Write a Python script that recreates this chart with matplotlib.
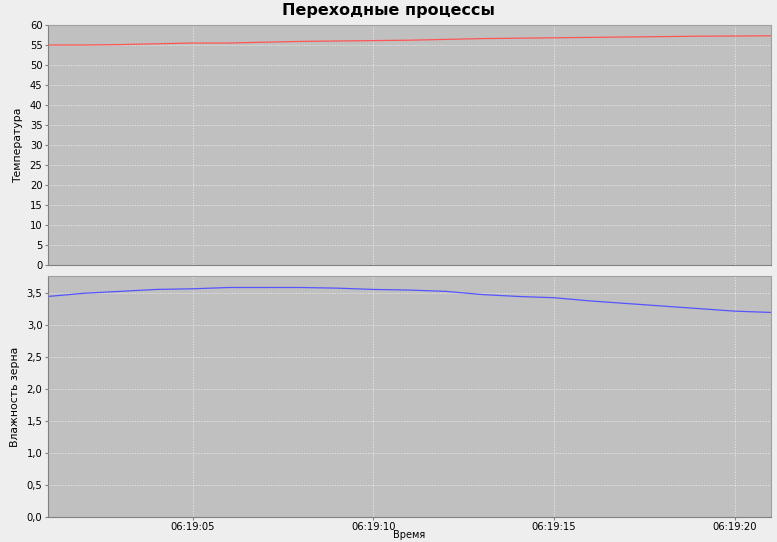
import matplotlib
matplotlib.use("Agg")
import matplotlib.pyplot as plt
import matplotlib.dates as mdates
import matplotlib.ticker as mticker
import pandas as pd

# время измерений (каждую секунду)
seconds = list(range(1, 22))
temperature = [55.0, 55.0, 55.1, 55.3, 55.5, 55.5, 55.7, 55.9, 56.0, 56.1, 56.2,
               56.4, 56.6, 56.7, 56.8, 56.9, 57.0, 57.1, 57.2, 57.25, 57.3]
humidity = [3.45, 3.50, 3.53, 3.56, 3.57, 3.59, 3.59, 3.59, 3.58, 3.56, 3.55,
            3.53, 3.48, 3.45, 3.43, 3.38, 3.34, 3.30, 3.26, 3.22, 3.20]

times = pd.to_datetime([f"2020-01-01 06:19:{s:02d}" for s in seconds])

plt.rcParams['font.family'] = ['DejaVu Sans']

fig = plt.figure(figsize=(7.77, 5.42), dpi=100, facecolor='#EEEEEE')
ax1 = fig.add_axes([48 / 777, 1 - 265 / 542, 723 / 777, 240 / 542])
ax2 = fig.add_axes([48 / 777, 1 - 517 / 542, 723 / 777, 241 / 542], sharex=ax1)


def style(ax):
    ax.set_facecolor('#C0C0C0')
    ax.grid(True, color='#F0F0F0', linestyle=(0, (2, 2)), linewidth=0.5)
    ax.set_axisbelow(True)
    for side in ['top', 'right']:
        ax.spines[side].set_color('#A0A0A0')
    for side in ['left', 'bottom']:
        ax.spines[side].set_color('#808080')
    ax.tick_params(labelsize=7.2, length=2, color='#808080', pad=2)


ax1.plot(times, temperature, color='#FF5555', linewidth=0.9)
ax2.plot(times, humidity, color='#5555FF', linewidth=0.9)

for ax in (ax1, ax2):
    style(ax)

ax1.set_ylim(0, 60)
ax1.yaxis.set_major_locator(mticker.MultipleLocator(5))
ax1.set_ylabel('Температура', fontsize=7.8, labelpad=5)
ax1.tick_params(axis='x', labelbottom=False, length=0)

ax2.set_ylim(0, 3.77)
ax2.yaxis.set_major_locator(mticker.MultipleLocator(0.5))
ax2.yaxis.set_major_formatter(mticker.FuncFormatter(lambda v, p: f"{v:.1f}".replace('.', ',')))
ax2.set_ylabel('Влажность зерна', fontsize=7.8, labelpad=5)

ax2.set_xlim(times[0], times[-1])
ax2.xaxis.set_major_locator(mdates.SecondLocator(bysecond=range(0, 60, 5)))
ax2.xaxis.set_major_formatter(mdates.DateFormatter('%H:%M:%S'))
ax2.tick_params(axis='x', pad=1.5)
ax2.set_xlabel('Время', fontsize=7, labelpad=-1)

fig.suptitle('Переходные процессы', fontsize=11.5, fontweight='bold', y=1 - 10 / 542, va='center')

fig.savefig('out.png', dpi=100, facecolor=fig.get_facecolor())
